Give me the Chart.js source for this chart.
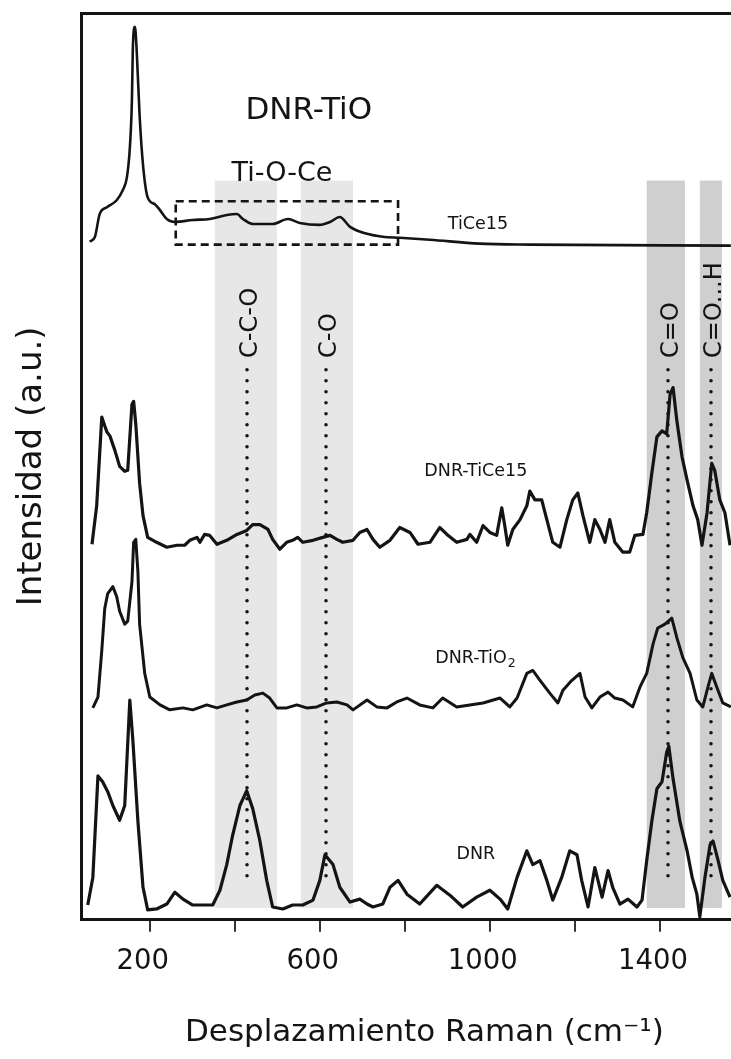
<!DOCTYPE html>
<html>
<head>
<meta charset="utf-8">
<title>Espectros Raman DNR</title>
<script src="https://cdn.jsdelivr.net/npm/chart.js@4.4.1/dist/chart.umd.min.js"></script>
<style>
  html, body { margin: 0; padding: 0; background: #fff; overflow: hidden; }
  canvas { display: block; }
</style>
</head>
<body>
<!-- el eje x sigue mas alla del borde derecho de la ventana -->
<canvas id="raman" width="767" height="1059"></canvas>
<script>
// Desplazamiento Raman (cm-1) e intensidad (u.a., con offset por muestra)
var ticeShift = [59, 71, 82, 99, 122, 136, 146, 153, 158, 160, 165, 169, 176, 184, 195, 212, 224, 240, 259, 301, 341, 381, 405, 419, 442, 489, 525, 553, 600, 624, 647, 671, 711, 748, 788, 859, 976, 1094, 1567];
var ticeInt = [68.8, 69.3, 71.6, 72.3, 73.0, 74.0, 75.3, 78.3, 83.3, 88.3, 90.6, 88.3, 81.6, 76.6, 73.3, 72.6, 72.0, 71.1, 70.8, 71.0, 71.1, 71.5, 71.6, 71.1, 70.6, 70.6, 71.1, 70.7, 70.5, 70.8, 71.3, 70.3, 69.6, 69.3, 69.2, 69.0, 68.6, 68.5, 68.4];

var dnrTiceShift = [64, 75, 87, 99, 106, 118, 129, 141, 148, 158, 162, 167, 176, 184, 195, 216, 240, 264, 282, 294, 311, 318, 329, 341, 358, 381, 405, 428, 442, 459, 478, 489, 506, 522, 536, 548, 560, 584, 607, 624, 640, 654, 678, 694, 711, 725, 741, 765, 788, 812, 831, 859, 882, 899, 922, 946, 953, 969, 984, 1000, 1016, 1028, 1035, 1042, 1054, 1071, 1087, 1094, 1106, 1122, 1134, 1148, 1165, 1181, 1195, 1207, 1219, 1235, 1247, 1259, 1271, 1282, 1294, 1313, 1329, 1341, 1360, 1369, 1381, 1393, 1405, 1416, 1424, 1431, 1440, 1452, 1464, 1478, 1489, 1499, 1511, 1522, 1529, 1541, 1553, 1565];
var dnrTiceInt = [38.1, 42.0, 51.0, 49.5, 49.1, 47.6, 46.0, 45.5, 45.6, 52.3, 52.6, 50.3, 44.3, 41.0, 38.8, 38.3, 37.8, 38.0, 38.0, 38.5, 38.8, 38.3, 39.1, 39.0, 38.1, 38.5, 39.1, 39.5, 40.1, 40.1, 39.6, 38.6, 37.6, 38.3, 38.5, 38.8, 38.3, 38.5, 38.8, 39.0, 38.6, 38.3, 38.5, 39.3, 39.6, 38.6, 37.8, 38.5, 39.8, 39.3, 38.1, 38.3, 39.8, 39.1, 38.3, 38.6, 39.1, 38.3, 40.0, 39.3, 39.0, 41.8, 40.0, 38.0, 39.6, 40.6, 42.0, 43.5, 42.6, 42.6, 40.6, 38.3, 37.8, 40.6, 42.6, 43.3, 41.0, 38.3, 40.6, 39.6, 38.3, 40.6, 38.3, 37.3, 37.3, 39.0, 39.1, 41.3, 45.3, 49.0, 49.6, 49.3, 53.3, 54.0, 50.6, 47.0, 44.6, 42.0, 40.6, 38.0, 41.3, 46.3, 45.6, 42.6, 41.3, 38.0];

var dnrTioShift = [66, 78, 87, 94, 101, 113, 122, 129, 141, 148, 158, 162, 167, 172, 176, 188, 200, 224, 247, 278, 301, 334, 358, 381, 405, 428, 447, 466, 482, 499, 522, 546, 569, 593, 616, 640, 664, 678, 711, 734, 758, 781, 805, 835, 866, 889, 922, 953, 984, 1024, 1047, 1064, 1087, 1101, 1118, 1141, 1160, 1172, 1193, 1212, 1224, 1240, 1259, 1278, 1294, 1313, 1336, 1353, 1369, 1384, 1395, 1412, 1428, 1440, 1454, 1471, 1487, 1501, 1513, 1522, 1534, 1548, 1567];
var dnrTioInt = [21.5, 22.6, 27.3, 31.6, 33.1, 33.8, 32.8, 31.3, 30.0, 30.3, 34.3, 38.3, 38.6, 35.3, 30.0, 25.0, 22.6, 21.8, 21.3, 21.5, 21.3, 21.8, 21.5, 21.8, 22.1, 22.3, 22.8, 23.0, 22.5, 21.5, 21.5, 21.8, 21.5, 21.6, 22.0, 22.1, 21.8, 21.3, 22.3, 21.6, 21.5, 22.1, 22.5, 21.8, 21.5, 22.5, 21.6, 21.8, 22.0, 22.5, 21.6, 22.5, 25.0, 25.3, 24.3, 23.0, 22.0, 23.3, 24.3, 25.0, 22.6, 21.5, 22.6, 23.1, 22.5, 22.3, 21.6, 23.6, 25.0, 28.0, 29.6, 30.0, 30.6, 28.6, 26.6, 25.0, 22.3, 21.6, 23.6, 25.0, 23.6, 22.0, 21.6];

var dnrShift = [54, 66, 78, 89, 101, 113, 129, 141, 153, 160, 172, 184, 195, 216, 240, 259, 278, 301, 325, 348, 365, 381, 395, 412, 428, 442, 459, 475, 489, 513, 536, 560, 584, 600, 612, 631, 647, 671, 694, 711, 725, 748, 765, 784, 805, 835, 875, 906, 936, 969, 1000, 1024, 1042, 1064, 1087, 1101, 1118, 1134, 1148, 1169, 1188, 1205, 1216, 1231, 1247, 1264, 1278, 1289, 1306, 1325, 1346, 1358, 1369, 1381, 1393, 1405, 1416, 1421, 1431, 1447, 1464, 1476, 1487, 1494, 1506, 1518, 1525, 1537, 1548, 1565];
var dnrInt = [1.5, 4.3, 14.6, 14.0, 13.0, 11.6, 10.1, 11.6, 22.3, 18.3, 10.0, 3.3, 1.0, 1.1, 1.6, 2.8, 2.1, 1.5, 1.5, 1.5, 3.0, 5.6, 8.6, 11.6, 13.1, 11.3, 8.0, 4.0, 1.3, 1.1, 1.5, 1.5, 2.0, 4.0, 6.6, 5.6, 3.3, 1.8, 2.1, 1.6, 1.3, 1.6, 3.3, 4.0, 2.6, 1.6, 3.5, 2.5, 1.3, 2.3, 3.0, 2.1, 1.1, 4.3, 7.0, 5.6, 6.0, 4.0, 2.0, 4.3, 7.0, 6.6, 4.0, 1.3, 5.3, 2.3, 5.0, 3.3, 1.6, 2.1, 1.3, 2.0, 6.0, 10.0, 13.3, 14.0, 17.0, 17.6, 14.3, 10.0, 7.0, 4.3, 2.6, 0.3, 4.3, 7.6, 8.0, 6.0, 4.0, 2.3];

var xTicks = [200, 400, 600, 800, 1000, 1200, 1400];
var xLabels = [200, 600, 1000, 1400];

// bandas de asignación (cm-1)
var bandFrom = [353, 555, 1369, 1494];
var bandTo = [499, 678, 1459, 1546];
var bandShade = ['#e7e7e7', '#e7e7e7', '#cfcfcf', '#cfcfcf'];
var bandNames = ['C-C-O', 'C-O', 'C=O', 'C=O...H'];
var bandCenter = [428, 614, 1419, 1520];

var FONT = "'DejaVu Sans', Verdana, sans-serif";
var INK = '#141414';

// textos sobre el gráfico
var notes = [
  { text: 'DNR-TiO', x: 574, y: 82.1, size: 31 },
  { text: 'Ti-O-Ce', x: 511, y: 75.7, size: 27 },
  { text: 'TiCe15', x: 972, y: 70.5, size: 17.5 },
  { text: 'DNR-TiCe15', x: 967, y: 45.5, size: 17.5 },
  { text: 'DNR-TiO', sub: '2', x: 965, y: 26.5, size: 17.5 },
  { text: 'DNR', x: 967, y: 6.6, size: 17.5 }
];

function pairs(xs, ys) {
  return xs.map(function (x, i) { return { x: x, y: ys[i] }; });
}

var decor = {
  id: 'decor',
  beforeDatasetsDraw: function (chart) {
    var ctx = chart.ctx, sx = chart.scales.x, sy = chart.scales.y;
    ctx.save();
    var top = sy.getPixelForValue(75.0), bottom = sy.getPixelForValue(1.2);
    for (var i = 0; i < bandFrom.length; i++) {
      var l = sx.getPixelForValue(bandFrom[i]);
      var r = sx.getPixelForValue(bandTo[i]);
      ctx.fillStyle = bandShade[i];
      ctx.fillRect(l, top, r - l, bottom - top);
    }
    // lineas punteadas de cada banda
    ctx.strokeStyle = INK;
    ctx.lineWidth = 3.6;
    ctx.lineCap = 'round';
    ctx.setLineDash([0, 11]);
    for (var j = 0; j < bandCenter.length; j++) {
      var px = Math.round(sx.getPixelForValue(bandCenter[j]));
      ctx.beginPath();
      ctx.moveTo(px, sy.getPixelForValue(55.8));
      ctx.lineTo(px, sy.getPixelForValue(3.5));
      ctx.stroke();
    }
    ctx.restore();
  },
  afterDatasetsDraw: function (chart) {
    var ctx = chart.ctx, sx = chart.scales.x, sy = chart.scales.y;
    ctx.save();

    // recuadro discontinuo Ti-O-Ce
    var bx0 = sx.getPixelForValue(261), bx1 = sx.getPixelForValue(784);
    var by0 = sy.getPixelForValue(72.9), by1 = sy.getPixelForValue(68.5);
    ctx.strokeStyle = INK;
    ctx.lineWidth = 2.6;
    ctx.setLineDash([8, 5]);
    ctx.strokeRect(bx0, by0, bx1 - bx0, by1 - by0);
    ctx.setLineDash([]);

    ctx.fillStyle = INK;
    ctx.textBaseline = 'middle';

    // etiquetas de bandas, giradas
    ctx.font = '24px ' + FONT;
    ctx.textAlign = 'left';
    for (var i = 0; i < bandNames.length; i++) {
      ctx.save();
      ctx.translate(sx.getPixelForValue(bandCenter[i]) + 4, sy.getPixelForValue(57.0));
      ctx.rotate(-Math.PI / 2);
      ctx.fillText(bandNames[i], 0, 0);
      ctx.restore();
    }

    // nombres de las muestras
    notes.forEach(function (n) {
      ctx.font = n.size + 'px ' + FONT;
      var w = ctx.measureText(n.text).width;
      var subW = 0;
      if (n.sub) {
        ctx.font = (n.size * 0.72) + 'px ' + FONT;
        subW = ctx.measureText(n.sub).width;
        ctx.font = n.size + 'px ' + FONT;
      }
      var cx = sx.getPixelForValue(n.x), cy = sy.getPixelForValue(n.y);
      var x0 = cx - (w + subW) / 2;
      ctx.textAlign = 'left';
      ctx.fillText(n.text, x0, cy);
      if (n.sub) {
        ctx.font = (n.size * 0.72) + 'px ' + FONT;
        ctx.fillText(n.sub, x0 + w + 1, cy + n.size * 0.28);
      }
    });
    ctx.restore();
  }
};

function spectrum(label, xs, ys, width, smooth) {
  return {
    label: label,
    data: pairs(xs, ys),
    borderColor: INK,
    borderWidth: width,
    borderJoinStyle: 'round',
    pointRadius: 0,
    fill: false,
    tension: smooth ? 0.4 : 0,
    cubicInterpolationMode: smooth ? 'monotone' : 'default'
  };
}

new Chart(document.getElementById('raman'), {
  type: 'line',
  data: {
    datasets: [
      spectrum('TiCe15', ticeShift, ticeInt, 2.6, true),
      spectrum('DNR-TiCe15', dnrTiceShift, dnrTiceInt, 3.2, false),
      spectrum('DNR-TiO2', dnrTioShift, dnrTioInt, 3.0, false),
      spectrum('DNR', dnrShift, dnrInt, 3.2, false)
    ]
  },
  options: {
    responsive: false,
    animation: false,
    devicePixelRatio: 1,
    layout: { padding: { top: 13, right: 0, bottom: 0, left: 0 } },
    plugins: {
      legend: { display: false },
      tooltip: { enabled: false }
    },
    scales: {
      x: {
        type: 'linear',
        position: 'bottom',
        min: 40,
        max: 1652,
        afterBuildTicks: function (scale) {
          scale.ticks = xTicks.map(function (v) { return { value: v }; });
        },
        ticks: {
          autoSkip: false,
          maxRotation: 0,
          padding: 14,
          labelOffset: -7,
          color: INK,
          font: { family: FONT, size: 27.5 },
          callback: function (value) {
            return xLabels.indexOf(value) >= 0 ? String(value) : '';
          }
        },
        grid: {
          drawOnChartArea: false,
          drawTicks: true,
          tickLength: 12,
          color: '#333',
          lineWidth: 2
        },
        border: { display: true, color: INK, width: 3 },
        title: {
          display: true,
          text: 'Desplazamiento Raman (cm\u207B\u00B9)',
          color: INK,
          font: { family: FONT, size: 31 },
          padding: { top: 22, bottom: 7 }
        }
      },
      top: {
        type: 'linear',
        position: 'top',
        min: 40,
        max: 1652,
        ticks: { display: false },
        grid: { display: false, drawTicks: false },
        border: { display: true, color: INK, width: 3 }
      },
      y: {
        type: 'linear',
        min: 0,
        max: 92,
        ticks: { display: false },
        grid: { display: false, drawTicks: false },
        border: { display: true, color: INK, width: 3 },
        title: {
          display: true,
          text: 'Intensidad (a.u.)',
          color: INK,
          font: { family: FONT, size: 34 },
          padding: { top: 12, bottom: 29 }
        }
      }
    }
  },
  plugins: [decor]
});
</script>
</body>
</html>
